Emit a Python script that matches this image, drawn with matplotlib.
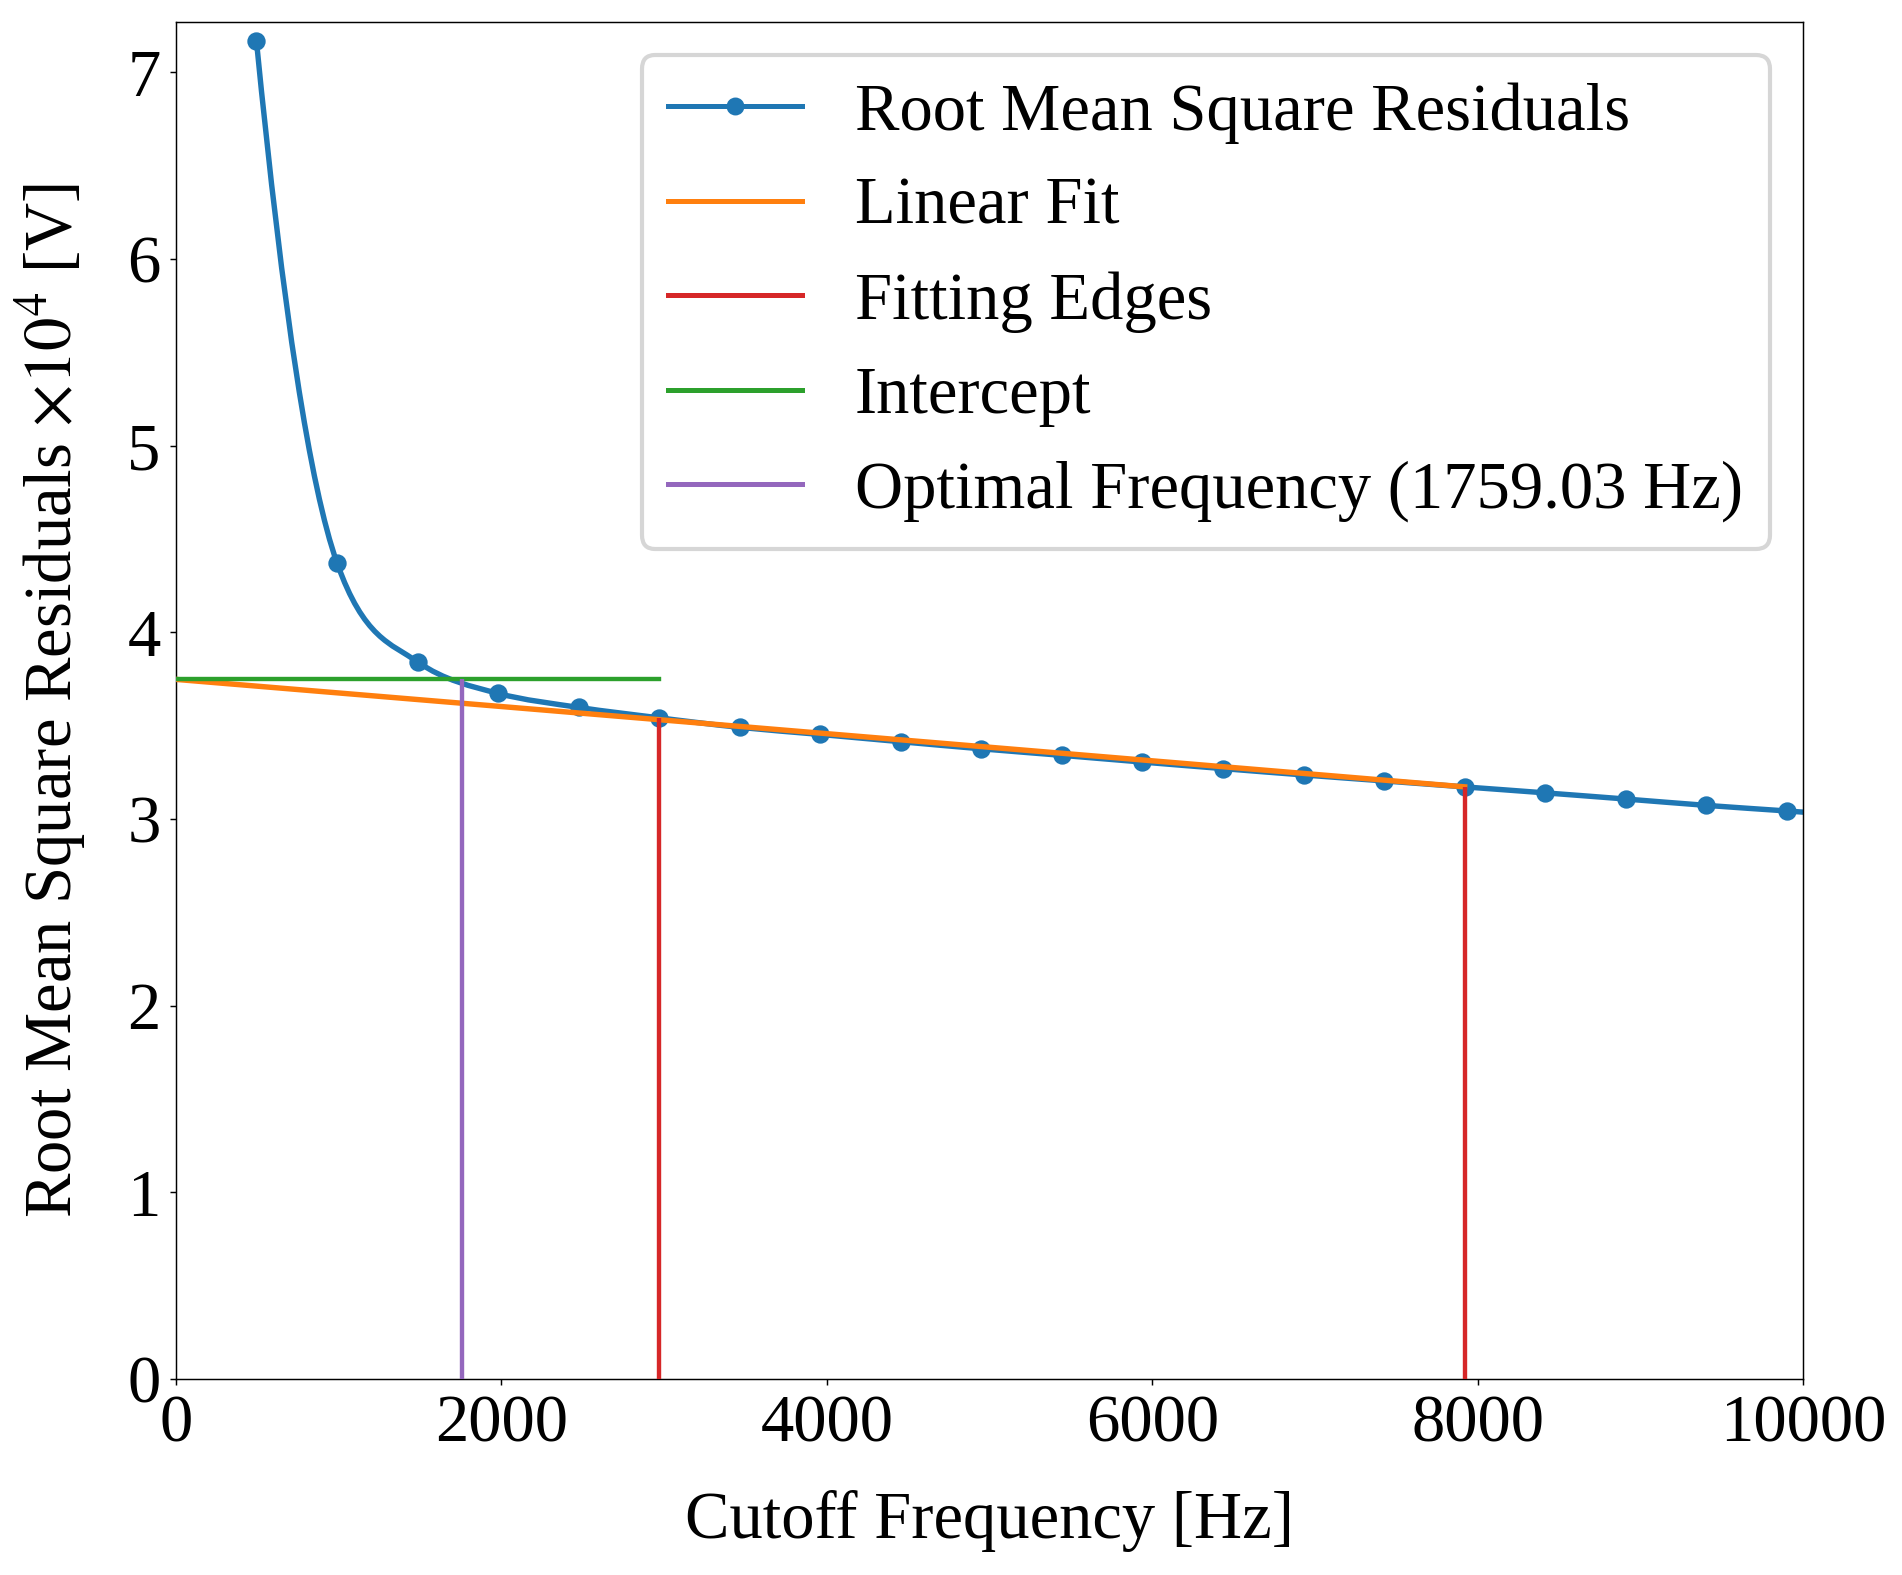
import numpy as np
import matplotlib
matplotlib.use("Agg")
import matplotlib.pyplot as plt
from matplotlib.path import Path
from matplotlib.patches import PathPatch
from matplotlib.lines import Line2D

# --------------------------- data ---------------------------
# cutoff frequencies [Hz] (last one lies past the right edge)
freq = [495, 990, 1485, 1980, 2475, 2970, 3465, 3960, 4455, 4950, 5445,
        5940, 6435, 6930, 7425, 7920, 8415, 8910, 9405, 9900, 10395]
# RMS residuals x 1e4 [V]
rms = [7.167, 4.372, 3.842, 3.673, 3.598, 3.542, 3.491, 3.453, 3.414, 3.376,
       3.341, 3.305, 3.270, 3.236, 3.204, 3.172, 3.140, 3.107, 3.073, 3.043,
       3.012]

fit_intercept = 3.748
fit_slope = -7.27e-5
fit_edges = [2970, 7920]
optimal_freq = 1759.03

x_ticks = [0, 2000, 4000, 6000, 8000, 10000]
y_ticks = [0, 1, 2, 3, 4, 5, 6, 7]

C_RMS, C_FIT, C_EDGE, C_INT, C_OPT = "#1f77b4", "#ff7f0e", "#d62728", "#2ca02c", "#9467bd"

# ------------------------- style ----------------------------
plt.rcParams["font.family"] = "serif"
plt.rcParams["font.serif"] = ["Liberation Serif", "DejaVu Serif"]
plt.rcParams["mathtext.fontset"] = "stix"
plt.rcParams["font.size"] = 16
plt.rcParams["axes.linewidth"] = 0.35
for a in ("xtick", "ytick"):
    plt.rcParams[f"{a}.major.size"] = 1.45
    plt.rcParams[f"{a}.major.width"] = 0.35
    plt.rcParams[f"{a}.major.pad"] = 2.2


def smooth_path(xs, ys):
    """Smooth monotone curve through the points, drawn as bezier segments."""
    xs = np.asarray(xs, float)
    ys = np.asarray(ys, float)
    n = len(xs)
    h = np.diff(xs)
    s = np.diff(ys) / h
    d = np.zeros(n)
    prod = s[:-1] * s[1:]
    d[1:-1] = np.where(prod > 0, np.sign(s[1:]) * np.sqrt(np.abs(prod)), 0.0)
    d[0] = 2 * s[0] - d[1]
    d[-1] = 2 * s[-1] - d[-2]
    verts = [(xs[0], ys[0])]
    codes = [Path.MOVETO]
    for i in range(n - 1):
        verts += [(xs[i] + h[i] / 3, ys[i] + d[i] * h[i] / 3),
                  (xs[i + 1] - h[i] / 3, ys[i + 1] - d[i + 1] * h[i] / 3),
                  (xs[i + 1], ys[i + 1])]
        codes += [Path.CURVE4] * 3
    return Path(verts, codes)


fig, ax = plt.subplots(figsize=(6.34, 5.25), dpi=300)
fig.subplots_adjust(left=0.0925, right=0.948, bottom=0.1245, top=0.986)

# RMS residuals: smooth curve + markers
ax.add_patch(PathPatch(smooth_path(freq, rms), facecolor="none",
                       edgecolor=C_RMS, lw=1.3, zorder=2))
ax.plot(freq, rms, "o", color=C_RMS, ms=3.4, zorder=2)

# linear fit
fx = np.array([0, fit_edges[1]])
ax.plot(fx, fit_intercept + fit_slope * fx, color=C_FIT, lw=1.3, zorder=3)

# fitting edges
edge_tops = [rms[freq.index(e)] for e in fit_edges]
ax.vlines(fit_edges, 0, edge_tops, color=C_EDGE, lw=1.05, zorder=3)

# intercept
ax.plot([0, fit_edges[0]], [fit_intercept, fit_intercept], color=C_INT, lw=1.05, zorder=3)

# optimal frequency
ax.vlines(optimal_freq, 0, fit_intercept, color=C_OPT, lw=1.05, zorder=3)

ax.set_xlim(0, 10000)
ax.set_ylim(0, 7.27)
ax.set_xticks(x_ticks)
ax.set_yticks(y_ticks)
ax.set_xlabel("Cutoff Frequency [Hz]", labelpad=8.4)
ax.set_ylabel(r"Root Mean Square Residuals $\times10^4$ [V]", labelpad=9.4)

handles = [
    Line2D([], [], color=C_RMS, lw=1.2, marker="o", ms=3.3),
    Line2D([], [], color=C_FIT, lw=1.2),
    Line2D([], [], color=C_EDGE, lw=1.2),
    Line2D([], [], color=C_INT, lw=1.2),
    Line2D([], [], color=C_OPT, lw=1.2),
]
labels = ["Root Mean Square Residuals", "Linear Fit", "Fitting Edges",
          "Intercept", f"Optimal Frequency ({optimal_freq:.2f} Hz)"]
ax.legend(handles, labels, loc="upper right")

fig.savefig("out.png", dpi=300)
